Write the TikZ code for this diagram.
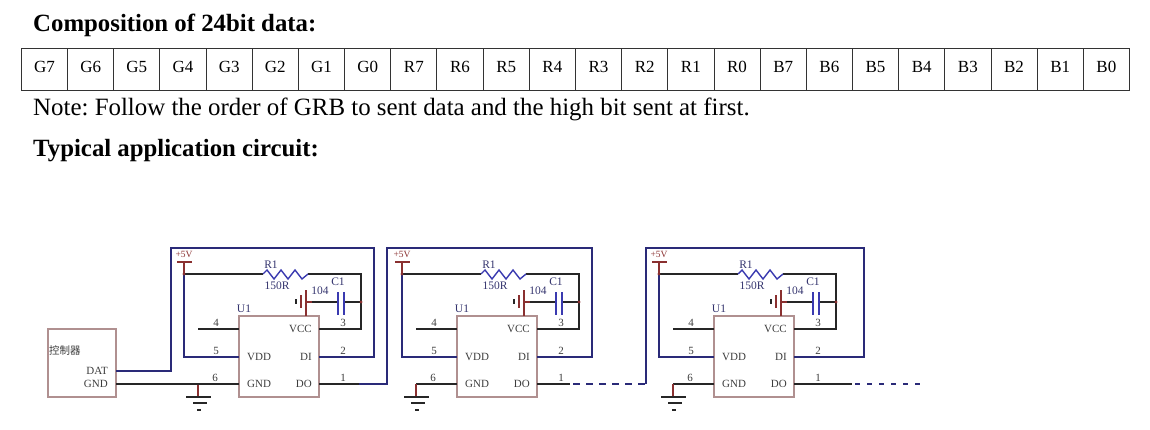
\documentclass[tikz,border=0pt]{standalone}
\usepackage{fontspec}
\setmainfont{Liberation Serif}
\newfontfamily\cjk{Noto Sans CJK SC}
\usetikzlibrary{positioning,calc}

\definecolor{railblue}{HTML}{2A2A78}
\definecolor{partblue}{HTML}{3A3AB0}
\definecolor{boxrose}{HTML}{B09090}
\definecolor{pwrred}{HTML}{8A3030}
\definecolor{labgray}{HTML}{3C3C3C}
\definecolor{labblue}{HTML}{34346E}

\tikzset{
    headtext/.style={anchor=base west,inner sep=0pt,font=\fontsize{24.8}{28}\selectfont\bfseries},
    notetext/.style={anchor=base west,inner sep=0pt,font=\fontsize{24.9}{28}\selectfont\frenchspacing},
    bitcell/.style={draw=black!80,line width=0.9pt,minimum width=46.17pt,minimum height=42pt,inner sep=0pt,text height=11.5pt,text depth=5.5pt,font=\fontsize{17}{20}\selectfont},
    partbox/.style={draw=boxrose,line width=1.8pt,fill=white,inner sep=0pt},
    wire/.style={line width=1.5pt,black!85},
    railwire/.style={line width=2.2pt,railblue},
    pwrwire/.style={line width=1.6pt,pwrred},
    complab/.style={inner sep=0pt,text=labgray,font=\fontsize{11}{12}\selectfont},
    partlab/.style={inner sep=0pt,text=labblue,font=\fontsize{11.5}{12}\selectfont},
}

\begin{document}
\begin{tikzpicture}[x=1pt,y=-1pt]
    \useasboundingbox (0,0) rectangle (1150,430);

    % Headings
    \node[headtext] (title) at (33,32) {Composition of 24bit data:};
    \node[notetext] (note) at (33,116) {Note: Follow the order of GRB to sent data and the high bit sent at first.};
    \node[headtext] (circuit) at (33,157) {Typical application circuit:};

    % Bit table
    \foreach \lab [count=\i] in {G7,G6,G5,G4,G3,G2,G1,G0,R7,R6,R5,R4,R3,R2,R1,R0,B7,B6,B5,B4,B3,B2,B1,B0} {
        \node[bitcell] (bit\i) at ({21.4+46.17*(\i-0.5)},69.5) {\lab};
    }

    % Controller
    \node[partbox,minimum width=68pt,minimum height=68pt] (ctrl) at (82,363) {};
    \node[complab,anchor=west] (ctrlname) at (49,351) {\cjk\fontsize{10.5}{11}\selectfont 控制器};
    \coordinate (dat) at (116,371);
    \coordinate (ctrlgnd) at (116,384);
    \node[complab,anchor=east] (datlab) at (108,371) {DAT};
    \node[complab,anchor=east] (gndlab) at (108,384) {GND};

    % Three LED stages
    \foreach \s/\dx/\railL/\railR in {1/0/171/374,2/218/169/374,3/475/171/389} {
    \begin{scope}[shift={(\dx,0)}]
        \coordinate (railtl\s) at (\railL,248);
        \coordinate (railtr\s) at (\railR,248);
        \coordinate (pwr\s) at (184,274);
        \coordinate (nc\s) at (198,329);
        \coordinate (vddend\s) at (184,357);
        \coordinate (capend\s) at (361,302);
        \coordinate (vccend\s) at (361,274);

        % Chip
        \node[partbox,minimum width=80pt,minimum height=81pt] (ic\s) at (279,356.5) {};
        \coordinate (pin4\s) at (239,329);
        \coordinate (vdd\s) at (239,357);
        \coordinate (gnd\s) at (239,384);
        \coordinate (vcc\s) at (319,329);
        \coordinate (di\s) at (319,357);
        \coordinate (dout\s) at (319,384);
        \node[complab,right=8pt of vdd\s] (lvdd\s) {VDD};
        \node[complab,right=8pt of gnd\s] (lgnd\s) {GND};
        \node[complab,left=7pt of vcc\s] (lvcc\s) {VCC};
        \node[complab,left=7pt of di\s] (ldi\s) {DI};
        \node[complab,left=7pt of dout\s] (ldo\s) {DO};
        \node[partlab] (u\s) at (244,309) {U1};

        % Pin numbers
        \foreach \num/\px/\py in {4/216/323,5/216/351,6/215/378,3/343/323,2/343/351,1/343/378} {
            \node[complab] (num\s-\num) at (\px,\py) {\num};
        }

        % Pin wires
        \draw[wire] (nc\s) -- (pin4\s);
        \draw[railwire] (vdd\s) -- (vddend\s) -- (pwr\s);
        \draw[wire] (pwr\s) -- (263,274);
        \draw[wire] (308,274) -- (vccend\s) -- (capend\s) -- (361,329) -- (vcc\s);

        % Resistor
        \draw[line width=1.4pt,partblue] (263,274) -- (267,270) -- (274,279) -- (281,270) -- (288,279) -- (295,270) -- (302,279) -- (308,274);
        \node[partlab] (r\s) at (271,265) {R1};
        \node[partlab] (rval\s) at (277,286) {150R};

        % Capacitor and its ground
        \draw[wire] (capend\s) -- (344,302);
        \draw[wire] (338,302) -- (312,302);
        \draw[pwrwire] (312,302) -- (306,302);
        \fill[pwrred] (capend\s) circle (1.6pt);
        \draw[line width=2pt,partblue] (338,292) -- (338,315);
        \draw[line width=2pt,partblue] (344,292) -- (344,315);
        \draw[pwrwire,line width=2pt] (306,290) -- (306,316);
        \draw[pwrwire] (301,295) -- (301,308);
        \draw[wire] (296,299) -- (296,304);
        \node[partlab] (c\s) at (338,282) {C1};
        \node[partlab] (cval\s) at (320,291) {104};

        % +5V
        \draw[pwrwire] (pwr\s) -- (184,262);
        \draw[pwrwire,line width=2pt] (177,262) -- (192,262);
        \node[inner sep=0pt,text=pwrred,font=\fontsize{9.5}{10}\selectfont] (vplus\s) at (184,254) {+5V};
        \fill[pwrred] (pwr\s) circle (1.6pt);

        % Ground
        \draw[wire] (gnd\s) -- (198,384);
        \draw[pwrwire] (198,384) -- (198,397);
        \draw[wire] (186,397) -- (211,397);
        \draw[wire] (193,403) -- (207,403);
        \draw[wire] (197,410) -- (201,410);
    \end{scope}
    }

    % Data line through the stages
    \draw[wire] (ctrlgnd) -- (gnd1);
    \draw[railwire] (dat) -| (railtl1) -- (railtr1) |- (di1);
    \draw[railwire] (dout1) -| (railtl2) -- (railtr2) |- (di2);
    \coordinate (dash2) at (570,384);
    \coordinate (dash3) at (852,384);
    \coordinate (tailend) at (920,384);
    \draw[wire] (dout1) -- ++(40,0);
    \draw[wire] (dout2) -- (dash2);
    \draw[line width=1.6pt,railblue,dash pattern=on 7pt off 6pt] (dash2) ++(3,0) -- (dash2 -| railtl3);
    \draw[railwire] (dash2 -| railtl3) -- (railtl3) -- (railtr3) |- (di3);
    \draw[wire] (dout3) -- (dash3);
    \draw[line width=1.6pt,railblue,dash pattern=on 5pt off 7pt] (dash3) ++(3,0) -- (tailend);
\end{tikzpicture}
\end{document}
